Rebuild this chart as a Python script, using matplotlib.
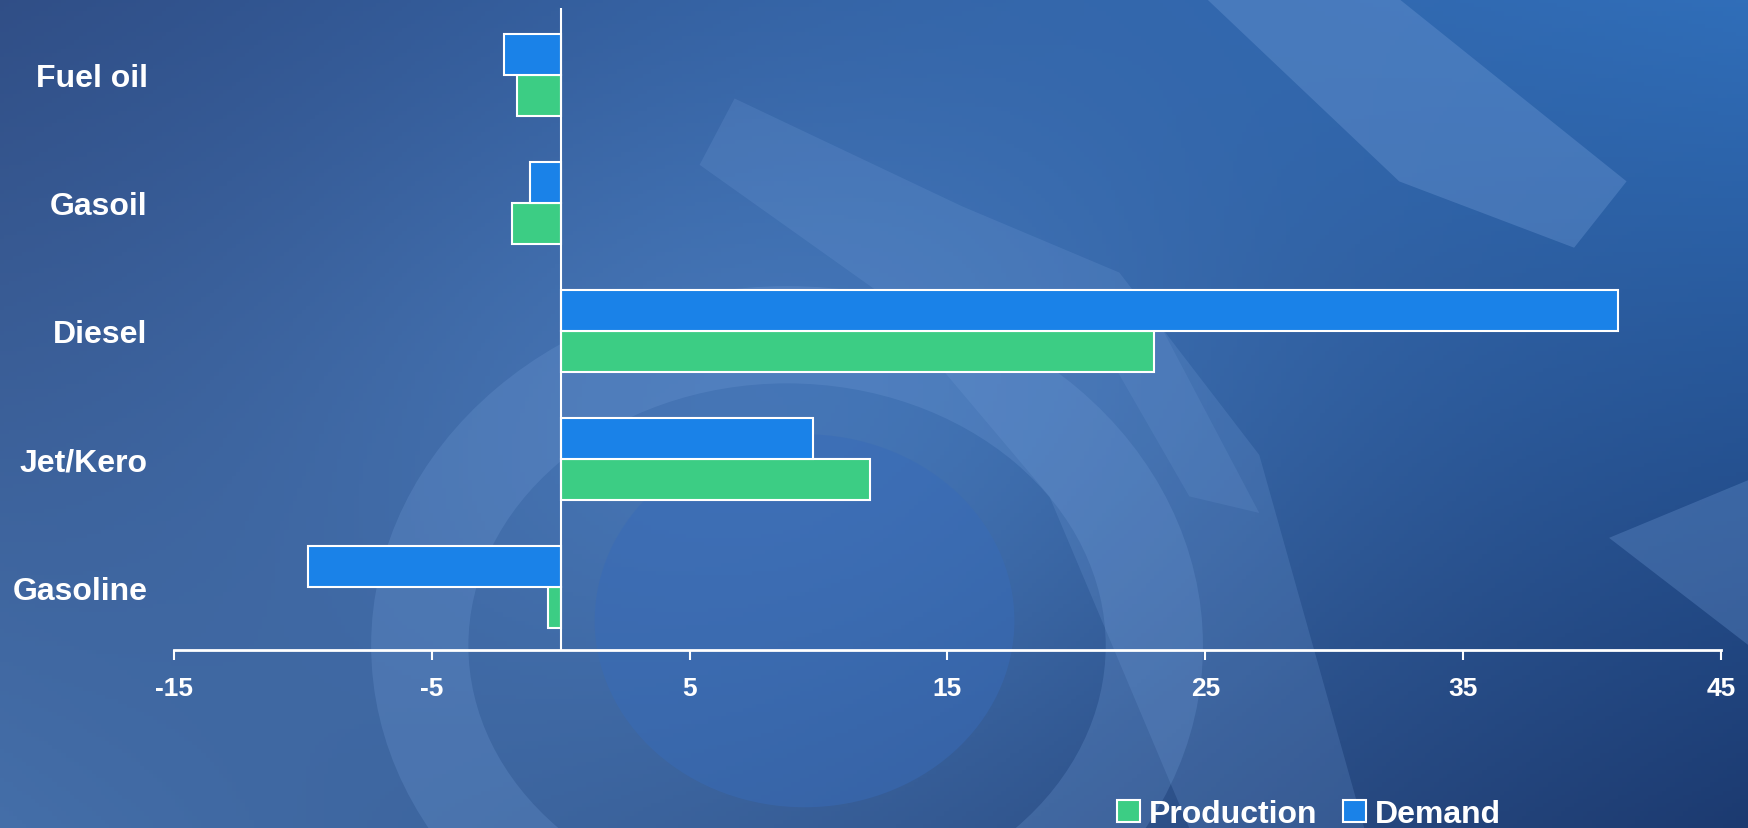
import matplotlib.pyplot as plt
import matplotlib.patches as mpatches
import numpy as np

plt.rcParams['font.family'] = ['Liberation Sans', 'DejaVu Sans']

categories = ['Gasoline', 'Jet/Kero', 'Diesel', 'Gasoil', 'Fuel oil']
production = [-0.5, 12.0, 23.0, -1.9, -1.7]
demand = [-9.8, 9.8, 41.0, -1.2, -2.2]
xticks = [-15, -5, 5, 15, 25, 35, 45]

W, H = 1749, 829
fig = plt.figure(figsize=(W / 100, H / 100), dpi=100)

# background: blue gradient with lighter swirl shapes
bg = fig.add_axes([0, 0, 1, 1], zorder=-5)
yy, xx = np.mgrid[0:1:200j, 0:1:400j]
tl = np.array([48, 78, 134]); tr = np.array([48, 110, 185])
bl = np.array([68, 110, 168]); br = np.array([28, 58, 112])
img = ((1 - xx)[..., None] * (1 - yy)[..., None] * tl + xx[..., None] * (1 - yy)[..., None] * tr
       + (1 - xx)[..., None] * yy[..., None] * bl + xx[..., None] * yy[..., None] * br)
bump = np.exp(-((xx - 0.45) ** 2 / 0.08 + (yy - 0.5) ** 2 / 0.2))[..., None]
img = img + bump * np.array([20, 28, 32])
bg.imshow(np.clip(img, 0, 255).astype(np.uint8), extent=[0, 1, 0, 1], aspect='auto', origin='upper')
light = (0.45, 0.62, 0.85)
bg.add_patch(mpatches.Ellipse((0.45, 0.22), 0.42, 0.75, fill=False, ec=light, lw=70, alpha=0.25))
bg.add_patch(mpatches.Ellipse((0.46, 0.25), 0.24, 0.45, fc=(0.22, 0.42, 0.72), ec='none', alpha=0.5))
bg.add_patch(mpatches.Polygon([[0.69, 1.0], [0.80, 1.0], [0.93, 0.78], [0.90, 0.70], [0.80, 0.78]],
                              fc=light, ec='none', alpha=0.35))
bg.add_patch(mpatches.Polygon([[0.42, 0.88], [0.55, 0.75], [0.64, 0.67], [0.72, 0.45], [0.78, 0.0],
                              [0.68, 0.0], [0.60, 0.40], [0.50, 0.65], [0.40, 0.80]],
                              fc=light, ec='none', alpha=0.22))
bg.add_patch(mpatches.Polygon([[0.92, 0.35], [1.0, 0.42], [1.0, 0.22]], fc=light, ec='none', alpha=0.3))
bg.add_patch(mpatches.Polygon([[0.62, 0.62], [0.68, 0.4], [0.72, 0.38], [0.66, 0.62]],
                              fc=light, ec='none', alpha=0.18))
bg.set_xlim(0, 1); bg.set_ylim(0, 1)
bg.axis('off')

ax = fig.add_axes([174 / W, 1 - 651 / H, (1721 - 174) / W, (651 - 9) / H])
ax.patch.set_alpha(0)

y = np.arange(len(categories))
h = 0.32
ax.barh(y - h / 2, production, height=h, color='#3ccd84', edgecolor='white', lw=1.5, label='Production')
ax.barh(y + h / 2, demand, height=h, color='#1a82e8', edgecolor='white', lw=1.5, label='Demand')
ax.axvline(0, color='white', lw=1.5)

ax.set_xlim(-15, 45)
ax.set_ylim(-0.49, len(categories) - 0.48)
ax.set_xticks(xticks)
ax.set_xticklabels([str(v) for v in xticks], fontsize=19, fontweight='bold')
ax.set_yticks(y)
ax.set_yticklabels(categories, fontsize=23, fontweight='bold')
for s in ['top', 'right', 'left']:
    ax.spines[s].set_visible(False)
ax.spines['bottom'].set_color('white')
ax.spines['bottom'].set_linewidth(2)
ax.tick_params(axis='x', colors='white', direction='out', length=7, width=1.5, pad=12)
ax.tick_params(axis='y', length=0, pad=19, labelcolor='white')

leg = fig.legend(loc='lower right', bbox_to_anchor=(1530 / W, -0.036), ncol=2, frameon=False,
                 prop={'size': 23, 'weight': 'bold'}, handlelength=0.7, handleheight=0.7,
                 handletextpad=0.3, columnspacing=0.8)
for t in leg.get_texts():
    t.set_color('white')

fig.savefig('out.png', dpi=100)
